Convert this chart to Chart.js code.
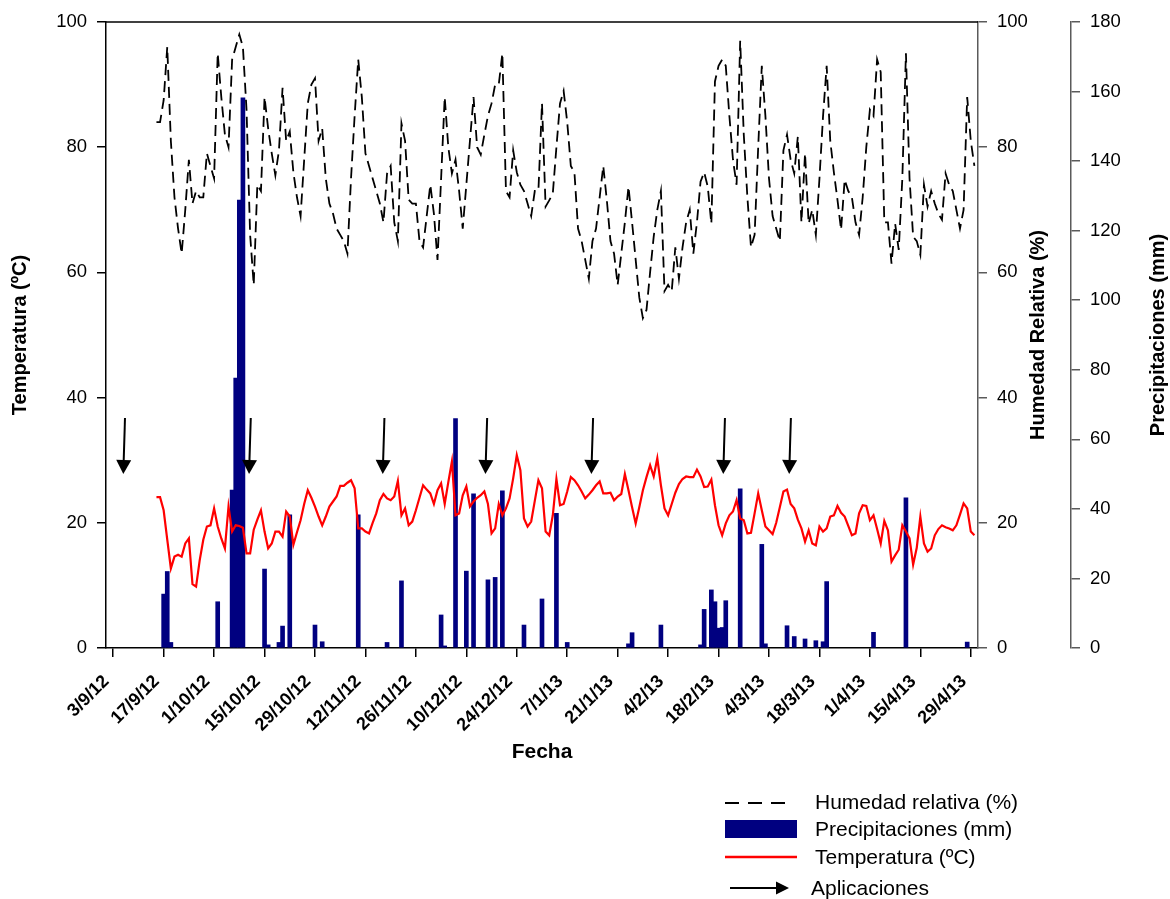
<!DOCTYPE html>
<html>
<head>
<meta charset="utf-8">
<script src="https://cdn.jsdelivr.net/npm/chart.js@4/dist/chart.umd.min.js"></script>
<style>
  html, body { margin: 0; padding: 0; background: #fff; }
  canvas { display: block; }
</style>
</head>
<body>
<canvas id="clima" width="1170" height="899"></canvas>
<script>
// dias contados desde el 3/9/12 (primera marca del eje)
const diaInicio = 12; // primer registro: 15/9/12

const diasTicks = [0, 14, 28, 42, 56, 70, 84, 98, 112, 126, 140, 154, 168, 182, 196, 210, 224, 238];
const etiquetasFecha = ['3/9/12', '17/9/12', '1/10/12', '15/10/12', '29/10/12', '12/11/12', '26/11/12',
  '10/12/12', '24/12/12', '7/1/13', '21/1/13', '4/2/13', '18/2/13', '4/3/13', '18/3/13', '1/4/13',
  '15/4/13', '29/4/13'];

// humedad relativa diaria (%), 15/9/12 - 30/4/13
const humedad = [
  84, 84, 87.5, 96, 81, 72, 67, 63, 70, 78,
  71, 73, 72, 72, 79, 77, 75, 95, 88, 82,
  80, 94, 96, 98, 96, 86, 66, 58, 74, 73,
  88, 83, 79, 75.5, 79.5, 89.5, 81, 82.5, 76, 72,
  69, 78, 87, 90, 91, 81, 83, 75, 71, 69.4,
  67, 66, 65, 63, 75, 85, 94, 88, 79, 77,
  75, 73, 71, 68, 75.8, 77, 68, 65, 83.8, 81,
  71.6, 71, 71, 65, 64, 69, 74, 69.4, 62, 75,
  88, 80, 75.8, 78, 73, 67, 74, 81, 88, 80,
  78.8, 82, 85, 87, 90, 90, 95, 73, 72, 79.5,
  76, 74, 73, 71, 69, 73, 73, 87, 70.5, 71.5,
  72.6, 80, 87, 89, 84, 77, 76, 67, 65, 62,
  59, 65, 67, 72, 77, 71.5, 65, 63, 58, 63,
  68, 73.7, 68, 62, 56, 52.7, 54, 60, 65.7, 70,
  73, 57, 58, 57, 64, 59, 64, 68, 70, 63,
  68, 74.5, 76, 73.7, 67.8, 90.5, 93, 94, 93, 85,
  78, 74, 97, 82, 72, 64, 66, 80, 93, 85,
  75, 69, 67, 65, 79.5, 82, 78, 75.8, 81.7, 68,
  79, 67.8, 70, 66, 75, 85, 93, 81, 76, 71.6,
  66.8, 74.8, 73, 72, 68, 66, 72, 80, 86, 85,
  94, 92, 68, 68, 61.4, 67.8, 63.6, 75, 95, 75,
  65.7, 65, 62.8, 74, 70.5, 73, 71, 69.4, 68.4, 75.8,
  74, 73, 70, 67, 70, 88, 81, 77
];

// temperatura media diaria (ºC), 15/9/12 - 30/4/13
const temperatura = [
  24.1, 24.1, 22, 17.3, 12.7, 14.6, 14.9, 14.6, 16.7, 17.5,
  10.2, 9.8, 14, 17.3, 19.4, 19.6, 22.3, 19.4, 17.5, 15.9,
  22.6, 18.6, 19.6, 19.5, 19.2, 15.1, 15.1, 18.9, 20.5, 22,
  18.6, 15.9, 16.7, 18.6, 18.6, 17.8, 21.8, 21, 16.5, 18.5,
  20.4, 23, 25.2, 24, 22.6, 21, 19.6, 21, 22.6, 23.4,
  24.2, 25.9, 25.9, 26.4, 26.8, 25.5, 19.1, 19.1, 18.6, 18.3,
  20, 21.5, 23.6, 24.6, 23.9, 23.6, 24.2, 26.7, 21.2, 22.3,
  19.6, 20.2, 22, 24, 26, 25.3, 24.7, 23, 25.2, 26.3,
  23, 26.5, 29.8, 21.2, 21.5, 24.4, 25.8, 22.6, 23.4, 24,
  24.4, 25, 23, 18.3, 19.1, 23, 21.2, 22.3, 23.9, 27.1,
  30.8, 28.4, 20.7, 19.4, 20.2, 23.5, 26.8, 25.5, 18.6, 18,
  21.2, 27, 22.8, 23, 25, 27.3, 26.8, 26, 25, 23.9,
  24.5, 25.2, 26, 26.6, 24.7, 24.7, 24.8, 23.6, 24.2, 24.6,
  27.8, 25.2, 22.5, 19.9, 22.5, 25.2, 27.3, 29.2, 27.4, 30.3,
  26, 22.3, 21.2, 23, 24.8, 26.2, 27, 27.4, 27.3, 27.3,
  28.5, 27.4, 25.7, 25.8, 26.9, 22.8, 19.6, 18, 19.9, 21.2,
  21.8, 23.6, 20.7, 20.4, 18.3, 18.4, 21.5, 24.7, 22, 19.4,
  18.8, 18.2, 20, 22.5, 25, 25.3, 23, 22.3, 20.5, 19.1,
  17, 18.8, 16.7, 16.4, 19.4, 18.6, 19.1, 21, 21.2, 22.7,
  21.6, 21, 19.5, 18, 18.3, 21.5, 22.8, 22.7, 20.4, 21.2,
  19, 16.7, 20.3, 18.8, 13.8, 14.8, 15.7, 19.6, 18.6, 17.5,
  13.3, 16, 21, 16.7, 15.4, 15.9, 18, 19, 19.6, 19.3,
  19.1, 18.8, 19.6, 21.3, 23.1, 22.3, 18.6, 18
];

// dias con lluvia y precipitacion (mm)
const diasLluvia = [14, 15, 16, 29, 33, 34, 35, 36, 42, 43, 46, 47, 49, 56, 58, 68, 76, 80, 91, 92,
  95, 98, 100, 104, 106, 108, 114, 119, 123, 126, 143, 144, 152, 163, 164, 166, 167, 168, 169, 170,
  174, 180, 181, 187, 189, 192, 195, 197, 198, 211, 220, 237];
const lluvia = [15.5, 22, 1.6, 13.3, 45.4, 77.6, 128.8, 158.2, 22.7, 0.9, 1.6, 6.3, 38.3, 6.6, 1.8, 38.3, 1.6, 19.3, 9.5, 0.6,
  66, 22.1, 44.3, 19.6, 20.3, 45.2, 6.6, 14.1, 38.7, 1.6, 1.2, 4.4, 6.6, 0.9, 11.1, 16.7, 13.3, 5.7, 5.9, 13.6,
  45.8, 29.8, 1.2, 6.4, 3.3, 2.6, 2.1, 1.8, 19.1, 4.5, 43.2, 1.7];

// fechas de aplicacion (flechas)
const aplicaciones = [2.8, 37.7, 74.8, 103.3, 132.7, 169.3, 187.6];

const fuente = "'Liberation Sans', Arial, sans-serif";
const gris = '#5a5a5a';

function flecha(ctx, x1, y1, x2, y2, cabeza, ancho) {
  const ang = Math.atan2(y2 - y1, x2 - x1);
  const bx = x2 - Math.cos(ang) * cabeza, by = y2 - Math.sin(ang) * cabeza;
  ctx.beginPath();
  ctx.moveTo(x1, y1);
  ctx.lineTo(bx, by);
  ctx.stroke();
  ctx.beginPath();
  ctx.moveTo(x2, y2);
  ctx.lineTo(bx + Math.sin(ang) * ancho, by - Math.cos(ang) * ancho);
  ctx.lineTo(bx - Math.sin(ang) * ancho, by + Math.cos(ang) * ancho);
  ctx.closePath();
  ctx.fill();
}

const extras = {
  id: 'extras',
  afterDatasetsDraw(chart) {
    const {ctx, chartArea: a, scales} = chart;
    ctx.save();
    ctx.strokeStyle = '#000';
    ctx.fillStyle = '#000';
    ctx.lineWidth = 1.5;
    ctx.beginPath();
    ctx.moveTo(a.left, a.top);
    ctx.lineTo(a.right, a.top);
    ctx.stroke();

    ctx.lineWidth = 2;
    aplicaciones.forEach(d => {
      const px = scales.x.getPixelForValue(d);
      const py = scales.y.getPixelForValue(27.8);
      flecha(ctx, px + 1.7, py - 56, px, py, 14, 7.5);
    });
    ctx.restore();
  },
  afterDraw(chart) {
    const {ctx, scales} = chart;
    ctx.save();
    ctx.fillStyle = '#000';
    ctx.font = 'bold 20px ' + fuente;
    ctx.textAlign = 'center';
    ctx.textBaseline = 'middle';
    const cy = (chart.chartArea.top + chart.chartArea.bottom) / 2;
    [['Humedad Relativa (%)', scales.yH.right - 33], ['Precipitaciones (mm)', scales.yP.right - 12]].forEach(([t, x]) => {
      ctx.save();
      ctx.translate(x, cy);
      ctx.rotate(-Math.PI / 2);
      ctx.fillText(t, 0, 0);
      ctx.restore();
    });

    // leyenda
    const lx = 725, tx = 815;
    ctx.font = '21px ' + fuente;
    ctx.textAlign = 'left';
    ctx.strokeStyle = '#000';
    ctx.lineWidth = 2;
    ctx.setLineDash([14, 9]);
    ctx.beginPath(); ctx.moveTo(lx, 803); ctx.lineTo(lx + 64, 803); ctx.stroke();
    ctx.setLineDash([]);
    ctx.fillText('Humedad relativa (%)', tx, 803);

    ctx.fillStyle = '#000080';
    ctx.fillRect(lx, 820, 72, 18);
    ctx.fillStyle = '#000';
    ctx.fillText('Precipitaciones (mm)', tx, 830);

    ctx.strokeStyle = '#ff0000';
    ctx.lineWidth = 2.5;
    ctx.beginPath(); ctx.moveTo(lx, 857); ctx.lineTo(lx + 72, 857); ctx.stroke();
    ctx.fillText('Temperatura (ºC)', tx, 858);

    ctx.strokeStyle = '#000';
    ctx.lineWidth = 2;
    flecha(ctx, 730, 888, 789, 888, 13, 6.5);
    ctx.fillText('Aplicaciones', 811, 889);
    ctx.restore();
  }
};

new Chart(document.getElementById('clima'), {
  type: 'bar',
  data: {
    datasets: [
      {
        type: 'line',
        label: 'Temperatura (ºC)',
        data: temperatura.map((v, i) => ({x: diaInicio + i, y: v})),
        yAxisID: 'y',
        borderColor: '#ff0000',
        borderWidth: 2.2,
        pointRadius: 0,
        tension: 0,
        order: 1
      },
      {
        type: 'line',
        label: 'Humedad relativa (%)',
        data: humedad.map((v, i) => ({x: diaInicio + i, y: v})),
        yAxisID: 'yH',
        borderColor: '#000',
        borderWidth: 1.8,
        borderDash: [11, 6],
        pointRadius: 0,
        tension: 0,
        order: 2
      },
      {
        label: 'Precipitaciones (mm)',
        data: diasLluvia.map((d, i) => ({x: d, y: lluvia[i]})),
        yAxisID: 'yP',
        backgroundColor: '#000080',
        borderWidth: 0,
        barThickness: 4,
        order: 3
      }
    ]
  },
  options: {
    responsive: false,
    animation: false,
    events: [],
    layout: { padding: { left: 0, right: 0, top: 22, bottom: 134 } },
    plugins: { legend: { display: false }, tooltip: { enabled: false } },
    scales: {
      x: {
        type: 'linear',
        min: -2,
        max: 240,
        offset: false,
        afterBuildTicks: s => { s.ticks = diasTicks.map(v => ({value: v})); },
        afterFit: s => { s.height = 117; },
        grid: { offset: false, drawOnChartArea: false, tickLength: 9, color: '#000', lineWidth: 1.5 },
        border: { color: '#000', width: 1.5 },
        ticks: {
          autoSkip: false,
          minRotation: 45,
          maxRotation: 45,
          padding: 14,
          labelOffset: -7,
          color: '#000',
          font: { family: fuente, size: 18, weight: 'bold' },
          callback: (v, i) => etiquetasFecha[i]
        },
        title: {
          display: true,
          text: 'Fecha',
          color: '#000',
          padding: 0,
          font: { family: fuente, size: 21, weight: 'bold' }
        }
      },
      y: {
        position: 'left',
        min: 0,
        max: 100,
        afterFit: s => { s.width = 106; },
        grid: { drawOnChartArea: false, tickLength: 9, color: '#000', lineWidth: 1.5 },
        border: { color: '#000', width: 1.5 },
        ticks: { stepSize: 20, padding: 10, color: '#000', font: { family: fuente, size: 18.5 } },
        title: {
          display: true,
          text: 'Temperatura (ºC)',
          color: '#000',
          padding: { top: 8, bottom: 0 },
          font: { family: fuente, size: 20, weight: 'bold' }
        }
      },
      yH: {
        position: 'right',
        min: 0,
        max: 100,
        afterFit: s => { s.width = 93; },
        grid: { drawOnChartArea: false, tickLength: 9, color: gris, lineWidth: 1.5 },
        border: { color: gris, width: 1.5 },
        ticks: { stepSize: 20, padding: 10, color: '#000', font: { family: fuente, size: 18.5 } }
      },
      yP: {
        position: 'right',
        min: 0,
        max: 180,
        afterFit: s => { s.width = 99; },
        grid: { drawOnChartArea: false, tickLength: 9, color: gris, lineWidth: 1.5 },
        border: { color: gris, width: 1.5 },
        ticks: { stepSize: 20, padding: 10, color: '#000', font: { family: fuente, size: 18.5 } }
      }
    }
  },
  plugins: [extras]
});
</script>
</body>
</html>
